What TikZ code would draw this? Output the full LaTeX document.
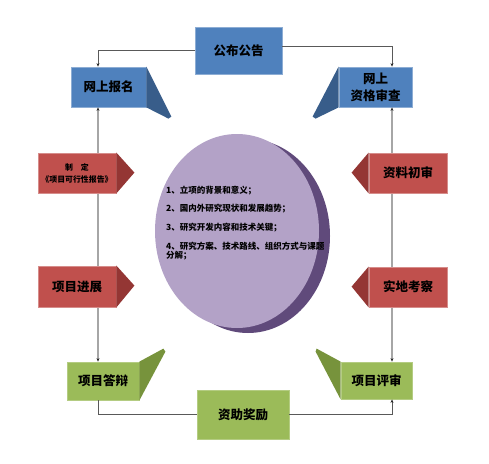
\documentclass[tikz,border=0pt]{standalone}
\usepackage{fontspec}
\newfontfamily\cjk{Noto Sans CJK SC}
\usetikzlibrary{arrows.meta, positioning}
\definecolor{boxblue}{HTML}{4F81BD}
\definecolor{flapblue}{HTML}{385D8A}
\definecolor{boxred}{HTML}{C0504D}
\definecolor{flapred}{HTML}{943634}
\definecolor{boxgreen}{HTML}{9BBB59}
\definecolor{flapgreen}{HTML}{77933C}
\definecolor{disc}{HTML}{B3A2C7}
\definecolor{discshadow}{HTML}{604A7B}

\begin{document}
\begin{tikzpicture}[x=1pt, y=-1pt, >={Stealth[length=3.5pt,width=3pt,color=black!85]}]
    \tikzstyle{box}=[rectangle, minimum height=40pt, inner sep=1pt, text=black, align=center, line width=0.8pt, font=\cjk\bfseries\fontsize{12.5}{17}\selectfont]
    \tikzstyle{blue box}=[box, fill=boxblue, draw=boxblue!65!white]
    \tikzstyle{red box}=[box, fill=boxred, draw=boxred!65!white, minimum width=78pt]
    \tikzstyle{green box}=[box, fill=boxgreen, draw=boxgreen!75!white]
    \tikzstyle{link}=[draw=black!65, line width=0.6pt]
    \tikzstyle{rail}=[draw=black!35, line width=1.2pt]
    \useasboundingbox (0,0) rectangle (489,463);

    % The disc in the middle
    \fill[discshadow] (248,236) ellipse [x radius=82pt, y radius=97pt];
    \fill[disc] (237,231) ellipse [x radius=82pt, y radius=97pt];
    \node[anchor=north west, align=left, inner sep=0pt, font=\cjk\bfseries\fontsize{8.5}{9.5}\selectfont] (aims) at (166,186)
        {1、立项的背景和意义；\\[8.5pt]
         2、国内外研究现状和发展趋势；\\[9pt]
         3、研究开发内容和技术关键；\\[9.5pt]
         4、研究方案、技术路线、组织方式与课题\\
         分解；};

    % Draw the blue and green boxes
    \node[blue box, minimum width=87pt, minimum height=47pt] (gonggao) at (238.5,50.5) {公布公告};
    \node[blue box, minimum width=75pt] (baoming) at (108.5,87) {网上报名};
    \node[blue box, minimum width=73pt] (zige) at (375.5,87) {网上\\资格审查};
    \node[green box, minimum width=72pt, minimum height=38pt] (dabian) at (103,381) {项目答辩};
    \node[green box, minimum width=71pt, minimum height=37pt] (pingshen) at (376.5,380.5) {项目评审};
    \node[green box, minimum width=92pt, minimum height=49pt] (jiangli) at (243,414.5) {资助奖励};

    % Folded flaps
    \fill[flapblue] (baoming.north east) -- ++(25,50) -- ++(-3,2) -- (baoming.south east) -- cycle;
    \fill[flapblue] (zige.north west) -- ++(-26,50) -- ++(3,2) -- (zige.south west) -- cycle;
    \fill[flapgreen] (dabian.north east) -- ++(24,-13) -- ++(2,3) -- (dabian.south east) -- cycle;
    \fill[flapgreen] (pingshen.north west) -- ++(-24,-13) -- ++(-1,3) -- (pingshen.south west) -- cycle;

    % Connect the boxes round the cycle
    \coordinate (lrail) at (98,0);
    \coordinate (rrail) at (392,0);
    \draw[link,->] (gonggao.west) -| (lrail |- baoming.north);
    \draw[link,->] ([yshift=4pt]gonggao.east) -| (rrail |- zige.north);
    \draw[rail,<->] (lrail |- baoming.south) -- (lrail |- dabian.north);
    \draw[rail,<->] (rrail |- zige.south) -- (rrail |- pingshen.north);
    \draw[link] (lrail |- dabian.south) |- (jiangli.west);
    \draw[link,->] (jiangli.east) -| (rrail |- pingshen.south);

    % Draw the red chevrons on top of the rails
    \node[red box, font=\cjk\bfseries\fontsize{7.9}{12}\selectfont] (zhiding) at (77,173) {制\hspace{1em}定\\《项目可行性报告》};
    \node[red box, minimum height=41pt] (jinzhan) at (77,286.5) {项目进展};
    \foreach \name/\y/\txt in {chushen/173/资料初审, kaocha/287/实地考察}
        \node[red box] (\name) at (408,\y) {\txt};

    \foreach \name in {zhiding, jinzhan}
        \fill[flapred] (\name.north east) -- ++(18,20) -- (\name.south east) -- cycle;
    \foreach \name in {chushen, kaocha}
        \fill[flapred] (\name.north west) -- ++(-17,20) -- (\name.south west) -- cycle;
\end{tikzpicture}
\end{document}
